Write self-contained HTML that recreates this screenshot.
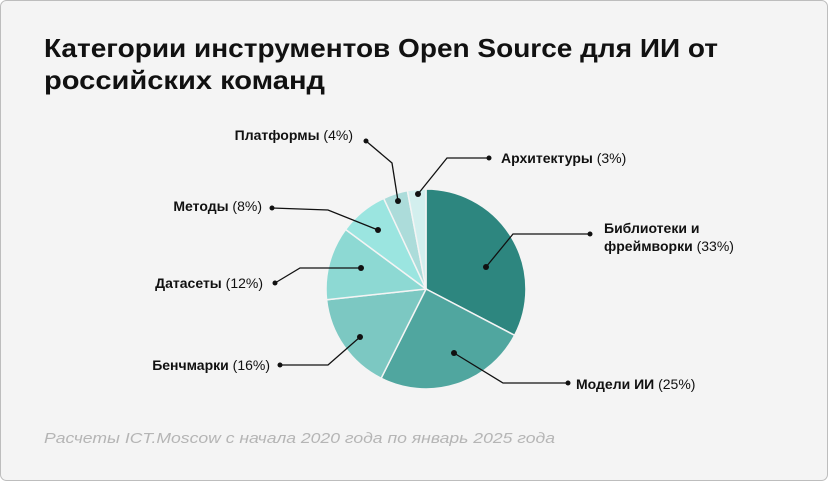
<!DOCTYPE html>
<html><head><meta charset="utf-8"><style>
html,body{margin:0;padding:0;background:#fff;}
svg{display:block;font-family:"Liberation Sans",sans-serif;}
</style></head><body>
<svg width="828" height="481" viewBox="0 0 828 481" xmlns="http://www.w3.org/2000/svg">
<rect x="0.5" y="0.5" width="827" height="480" rx="6" fill="#f4f4f4" stroke="#bdbdbd"/>
<text x="44" y="57" font-size="26" font-weight="bold" fill="#111" textLength="674" lengthAdjust="spacingAndGlyphs">Категории инструментов Open Source для ИИ от</text>
<text x="44" y="89" font-size="26" font-weight="bold" fill="#111" textLength="281" lengthAdjust="spacingAndGlyphs">российских команд</text>
<g stroke="#f4f4f4" stroke-width="1.5">
<path d="M426,289 L426,189 A100,100 0 0 1 514.6,335.3 Z" fill="#2d867f"/>
<path d="M426,289 L514.6,335.3 A100,100 0 0 1 381.1,378.3 Z" fill="#50a69f"/>
<path d="M426,289 L381.1,378.3 A100,100 0 0 1 326.6,299.8 Z" fill="#7cc8c2"/>
<path d="M426,289 L326.6,299.8 A100,100 0 0 1 345.6,229.5 Z" fill="#8dd9d3"/>
<path d="M426,289 L345.6,229.5 A100,100 0 0 1 383.7,198.4 Z" fill="#9be5e0"/>
<path d="M426,289 L383.7,198.4 A100,100 0 0 1 407.4,190.7 Z" fill="#acdcda"/>
<path d="M426,289 L407.4,190.7 A100,100 0 0 1 426,189 Z" fill="#d3efee"/>
</g>
<g stroke="#111" stroke-width="1.3" fill="none">
<polyline points="486,267 513,234 590,234"/>
<polyline points="454,353 503,383 568,383"/>
<polyline points="280,365 328,365 360,337"/>
<polyline points="275,283 300,268 361,268"/>
<polyline points="272,208 328,210 378,230"/>
<polyline points="366,141 392,163 398,201"/>
<polyline points="489,158 447,158 418,194"/>
</g>
<g fill="#111">
<circle cx="486" cy="267" r="3"/><circle cx="590" cy="234" r="2.5"/>
<circle cx="454" cy="353" r="3"/><circle cx="568" cy="383" r="2.5"/>
<circle cx="280" cy="365" r="2.5"/><circle cx="360" cy="337" r="3"/>
<circle cx="275" cy="283" r="2.5"/><circle cx="361" cy="268" r="3"/>
<circle cx="272" cy="208" r="2.5"/><circle cx="378" cy="230" r="3"/>
<circle cx="366" cy="141" r="2.5"/><circle cx="398" cy="201" r="3"/>
<circle cx="489" cy="158" r="2.5"/><circle cx="418" cy="194" r="3"/>
</g>
<g font-size="14" fill="#111">
<text x="604" y="233"><tspan font-weight="bold">Библиотеки и</tspan></text>
<text x="604" y="251"><tspan font-weight="bold">фреймворки</tspan> (33%)</text>
<text x="576" y="389"><tspan font-weight="bold">Модели ИИ</tspan> (25%)</text>
<text x="270" y="370" text-anchor="end"><tspan font-weight="bold">Бенчмарки</tspan> (16%)</text>
<text x="263" y="288" text-anchor="end"><tspan font-weight="bold">Датасеты</tspan> (12%)</text>
<text x="262" y="211" text-anchor="end"><tspan font-weight="bold">Методы</tspan> (8%)</text>
<text x="353" y="140" text-anchor="end"><tspan font-weight="bold">Платформы</tspan> (4%)</text>
<text x="501" y="163"><tspan font-weight="bold">Архитектуры</tspan> (3%)</text>
</g>
<text x="44" y="443" font-size="15" font-style="italic" fill="#b5b5b5" textLength="511" lengthAdjust="spacingAndGlyphs">Расчеты ICT.Moscow с начала 2020 года по январь 2025 года</text>
</svg>
</body></html>
